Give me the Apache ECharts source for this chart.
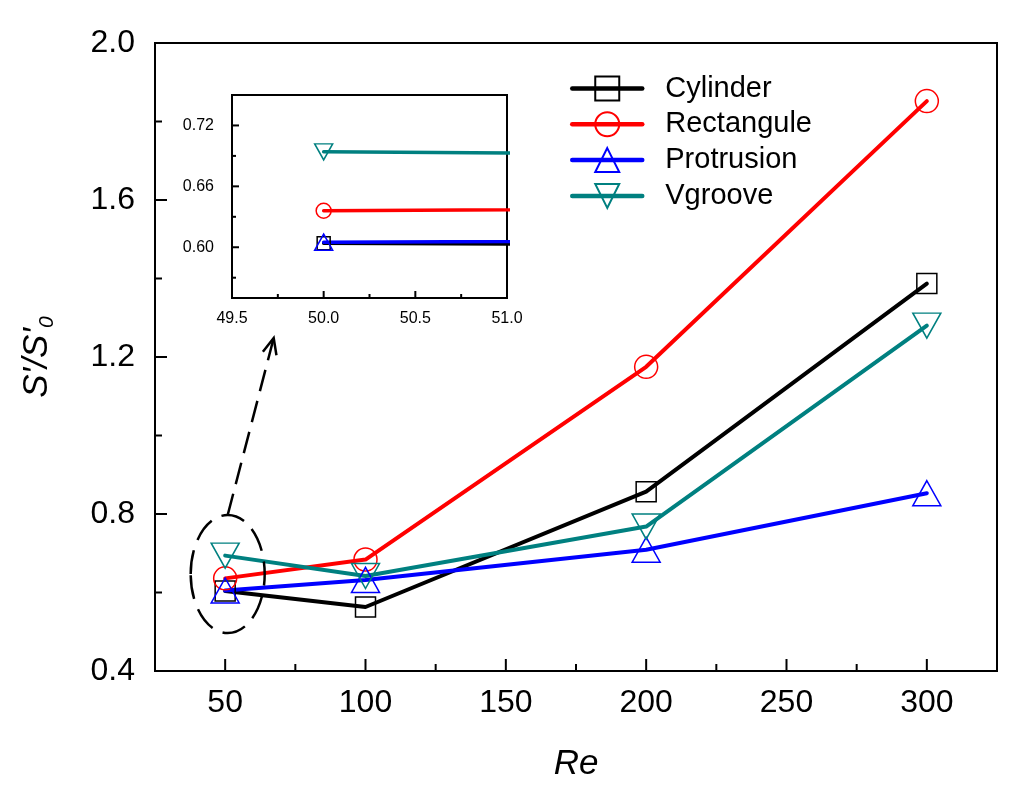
<!DOCTYPE html>
<html><head><meta charset="utf-8">
<script src="https://cdn.jsdelivr.net/npm/echarts@6/dist/echarts.min.js"></script>
<style>html,body{margin:0;padding:0;background:#fff}#c{width:1024px;height:804px}</style>
</head><body><div id="c"></div>
<script>
// ---- data ----
const re = [50, 100, 200, 300];
const cylinder   = [0.604, 0.563, 0.857, 1.387];
const rectangule = [0.636, 0.684, 1.175, 1.852];
const protrusion = [0.605, 0.632, 0.709, 0.853];
const vgroove    = [0.694, 0.642, 0.768, 1.280];
const seriesNames = ['Cylinder', 'Rectangule', 'Protrusion', 'Vgroove'];
const xMajorTicks = [50, 100, 150, 200, 250, 300];
const xMinorTicks = [75, 125, 175, 225, 275];
const yMajorTicks = [0.4, 0.8, 1.2, 1.6, 2.0];
const yMinorTicks = [0.6, 1.0, 1.4, 1.8];
const insetXTicks = [49.5, 50.0, 50.5, 51.0];
const insetXMinorTicks = [49.75, 50.25, 50.75];
const insetYTicks = [0.60, 0.66, 0.72];
const insetYMinorTicks = [0.57, 0.63, 0.69];
const calloutCenter = [50.9, 0.647];

// ---- styling ----
const FONT = "'Liberation Sans', Arial, sans-serif";
const colors = ['#000000', '#ff0000', '#0000ff', '#008080'];
const symbols = ['rect', 'circle', 'triangle', 'triangle'];
const rotates = [0, 0, 0, 180];
const mainSizes = [20, 23, [28, 25], [28, 25]];
const insetSizes = [13, 15, [18, 16], [18, 16]];
const values = [cylinder, rectangule, protrusion, vgroove];

function mk(i, xi, yi, sizes, lw) {
  return {
    name: seriesNames[i], type: 'line', xAxisIndex: xi, yAxisIndex: yi,
    data: re.map((x, k) => [x, values[i][k]]),
    symbol: symbols[i], symbolRotate: rotates[i], symbolSize: sizes[i],
    showAllSymbol: true, clip: true, animation: false,
    lineStyle: { color: colors[i], width: lw, cap: 'round', join: 'round' },
    itemStyle: { color: 'rgba(255,255,255,0)', borderColor: colors[i], borderWidth: 1.5 },
    emphasis: { disabled: true }
  };
}

const blackLine = { show: true, lineStyle: { color: '#000', width: 2 } };

const chart = echarts.init(document.getElementById('c'), null, { renderer: 'canvas' });
const option = {
  backgroundColor: '#fff',
  textStyle: { fontFamily: FONT, color: '#000' },
  animation: false,
  grid: [
    { left: 155, right: 27, top: 43, bottom: 133, show: true, borderColor: '#000', borderWidth: 2, backgroundColor: 'transparent' },
    { left: 232, top: 95, width: 275, height: 203, show: true, borderColor: '#000', borderWidth: 2, backgroundColor: '#fff' }
  ],
  legend: {
    data: seriesNames, left: 570, top: 74, orient: 'vertical', padding: 0,
    itemWidth: 70, itemHeight: 30, itemGap: 6.8,
    lineStyle: { width: 4.5, cap: 'round' },
    textStyle: { fontSize: 29, color: '#000', fontFamily: FONT, padding: [0, 0, 0, 18] }
  },
  xAxis: [
    { type: 'value', gridIndex: 0, min: 25, max: 325,
      name: 'Re', nameLocation: 'middle', nameGap: 76,
      nameTextStyle: { fontSize: 35, fontStyle: 'italic', fontFamily: FONT, color: '#000' },
      axisLine: blackLine, axisTick: { show: false },
      axisLabel: { show: true, customValues: xMajorTicks, fontSize: 32, color: '#000', margin: 16, fontFamily: FONT },
      splitLine: { show: false } },
    { type: 'value', gridIndex: 1, min: 49.5, max: 51,
      axisLine: blackLine, axisTick: { show: false },
      axisLabel: { show: true, customValues: insetXTicks, fontSize: 16, color: '#000', margin: 13, fontFamily: FONT, formatter: v => v.toFixed(1) },
      splitLine: { show: false } }
  ],
  yAxis: [
    { type: 'value', gridIndex: 0, min: 0.4, max: 2.0,
      name: "{a|S'/S'}{b|0}", nameLocation: 'middle', nameGap: 97, nameRotate: 90,
      nameTextStyle: { rich: {
        a: { fontSize: 35, fontStyle: 'italic', fontFamily: FONT, color: '#000', lineHeight: 42 },
        b: { fontSize: 21, fontStyle: 'italic', fontFamily: FONT, color: '#000', lineHeight: 21, verticalAlign: 'bottom' }
      } },
      axisLine: blackLine, axisTick: { show: false },
      axisLabel: { show: true, customValues: yMajorTicks, fontSize: 32, color: '#000', margin: 20, fontFamily: FONT, formatter: v => v.toFixed(1) },
      splitLine: { show: false } },
    { type: 'value', gridIndex: 1, min: 0.55, max: 0.75,
      axisLine: blackLine, axisTick: { show: false },
      axisLabel: { show: true, customValues: insetYTicks, fontSize: 16, color: '#000', margin: 18, fontFamily: FONT, formatter: v => v.toFixed(2) },
      splitLine: { show: false } }
  ],
  series: [
    mk(0, 0, 0, mainSizes, 4), mk(1, 0, 0, mainSizes, 4), mk(2, 0, 0, mainSizes, 4), mk(3, 0, 0, mainSizes, 4),
    mk(0, 1, 1, insetSizes, 3.5), mk(1, 1, 1, insetSizes, 3.5), mk(2, 1, 1, insetSizes, 3.5), mk(3, 1, 1, insetSizes, 3.5)
  ]
};
chart.setOption(option);

// ---- inward ticks placed through the axes' own scales ----
const g = [];
function seg(x1, y1, x2, y2) {
  g.push({ type: 'polyline', silent: true, z: 9, shape: { points: [[x1, y1], [x2, y2]] }, style: { fill: 'none', stroke: '#000', lineWidth: 2 } });
}
function xTicks(axisIdx, yVal, yAxisIdx, list, len) {
  const yb = chart.convertToPixel({ yAxisIndex: yAxisIdx }, yVal);
  list.forEach(v => { const x = chart.convertToPixel({ xAxisIndex: axisIdx }, v); seg(x, yb, x, yb - len); });
}
function yTicks(axisIdx, xVal, xAxisIdx, list, len) {
  const xl = chart.convertToPixel({ xAxisIndex: xAxisIdx }, xVal);
  list.forEach(v => { const y = chart.convertToPixel({ yAxisIndex: axisIdx }, v); seg(xl, y, xl + len, y); });
}
xTicks(0, 0.4, 0, xMajorTicks, 12);
xTicks(0, 0.4, 0, xMinorTicks, 7);
yTicks(0, 25, 0, yMajorTicks, 12);
yTicks(0, 25, 0, yMinorTicks, 7);
xTicks(1, 0.55, 1, insetXTicks, 7);
xTicks(1, 0.55, 1, insetXMinorTicks, 4);
yTicks(1, 49.5, 1, insetYTicks, 7);
yTicks(1, 49.5, 1, insetYMinorTicks, 4);

// callout annotation: dashed ellipse around Re=50 points + dashed arrow to inset
const c = chart.convertToPixel({ gridIndex: 0 }, calloutCenter);
const rx = 37, ry = 59;
const start = [c[0], c[1] - ry];
const tip = [start[0] + 46, start[1] - 177];
const L = Math.hypot(tip[0] - start[0], tip[1] - start[1]);
const ux = (tip[0] - start[0]) / L, uy = (tip[1] - start[1]) / L;
const px = -uy, py = ux;
const back = 16, half = 7;
g.push(
  { type: 'ellipse', shape: { cx: c[0], cy: c[1], rx: rx, ry: ry }, silent: true, z: 10,
    style: { fill: 'none', stroke: '#000', lineWidth: 2.5, lineDash: [24, 11] } },
  { type: 'line', shape: { x1: start[0], y1: start[1], x2: tip[0], y2: tip[1] }, silent: true, z: 10,
    style: { stroke: '#000', lineWidth: 2.5, lineDash: [22, 10] } },
  { type: 'polyline', silent: true, z: 10,
    shape: { points: [
      [tip[0] - ux * back + px * half, tip[1] - uy * back + py * half],
      tip,
      [tip[0] - ux * back - px * half, tip[1] - uy * back - py * half]
    ] },
    style: { fill: 'none', stroke: '#000', lineWidth: 2.5 } }
);
chart.setOption({ graphic: g });
</script>
</body></html>
